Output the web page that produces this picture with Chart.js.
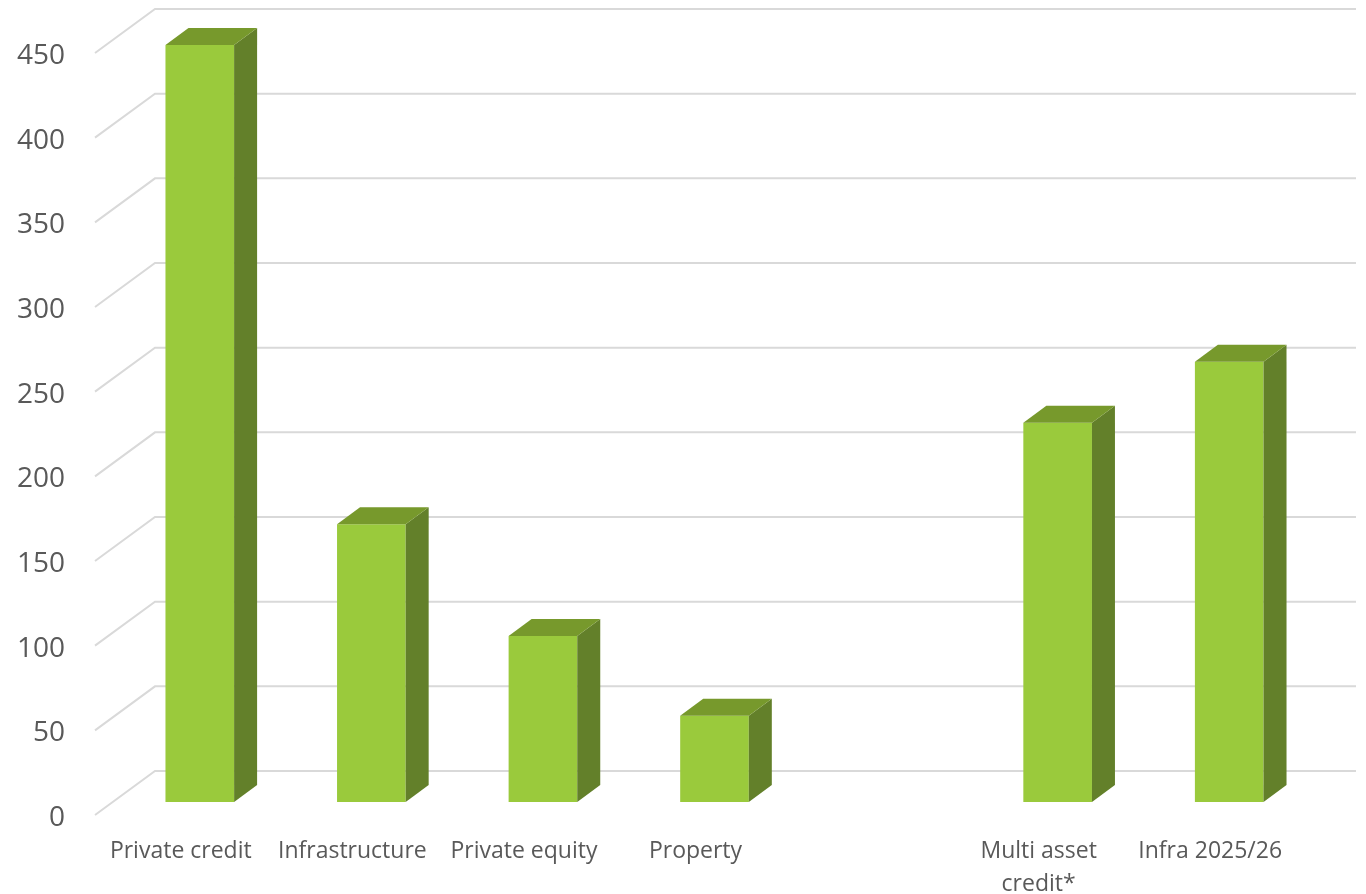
<!DOCTYPE html>
<html>
<head>
<meta charset="utf-8">
<script src="https://cdn.jsdelivr.net/npm/chart.js@4/dist/chart.umd.min.js"></script>
<style>
  html, body { margin: 0; padding: 0; background: #ffffff; }
  #wrap { position: relative; width: 1366px; height: 894px; }
</style>
</head>
<body>
<div id="wrap"><canvas id="c"></canvas></div>
<script>
// ---- data ----
const categories = ['Private credit', 'Infrastructure', 'Private equity', 'Property', '', ['Multi asset', 'credit*'], 'Infra 2025/26'];
const values = [447, 164, 98, 51, null, 224, 260];
const yTicks = [0, 50, 100, 150, 200, 250, 300, 350, 400, 450];

// ---- styling ----
const FRONT = '#9aca3c';
const TOP = '#77992c';
const SIDE = '#63802a';
const GRID = '#d9d9d9';
const TEXT = '#595959';
const WALL_DX = 60, WALL_DY = -44;   // front plane -> back wall
const BAR_DX = 19, BAR_DY = -13;     // front plane -> bar front face
const DEPTH_DX = 23, DEPTH_DY = -17; // bar depth

const wallPlugin = {
  id: 'wall',
  beforeDatasetsDraw(chart) {
    const ctx = chart.ctx;
    const ys = chart.scales.y;
    const area = chart.chartArea;
    ctx.save();
    ctx.strokeStyle = GRID;
    ctx.lineWidth = 2;
    yTicks.forEach(v => {
      const y = ys.getPixelForValue(v);
      ctx.beginPath();
      ctx.moveTo(area.left, y);
      ctx.lineTo(area.left + WALL_DX, y + WALL_DY);
      ctx.lineTo(area.right + WALL_DX, y + WALL_DY);
      ctx.stroke();
    });
    ctx.restore();
    // shift bar plane (restored after datasets draw)
    ctx.save();
    ctx.translate(BAR_DX, BAR_DY);
  },
  afterDatasetsDraw(chart) {
    const ctx = chart.ctx;
    const meta = chart.getDatasetMeta(0);
    meta.data.forEach((bar, i) => {
      if (values[i] == null) return;
      const p = bar.getProps(['x', 'y', 'base', 'width'], true);
      const l = p.x - p.width / 2, r = p.x + p.width / 2;
      // side
      ctx.fillStyle = SIDE;
      ctx.beginPath();
      ctx.moveTo(r, p.y);
      ctx.lineTo(r + DEPTH_DX, p.y + DEPTH_DY);
      ctx.lineTo(r + DEPTH_DX, p.base + DEPTH_DY);
      ctx.lineTo(r, p.base);
      ctx.closePath();
      ctx.fill();
      // top
      ctx.fillStyle = TOP;
      ctx.beginPath();
      ctx.moveTo(l, p.y);
      ctx.lineTo(l + DEPTH_DX, p.y + DEPTH_DY);
      ctx.lineTo(r + DEPTH_DX, p.y + DEPTH_DY);
      ctx.lineTo(r, p.y);
      ctx.closePath();
      ctx.fill();
    });
    ctx.restore();
  }
};

new Chart(document.getElementById('c'), {
  type: 'bar',
  data: {
    labels: categories,
    datasets: [{
      data: values,
      backgroundColor: FRONT,
      borderWidth: 0,
      barPercentage: 1,
      categoryPercentage: 0.4,
      clip: false
    }]
  },
  options: {
    responsive: true,
    maintainAspectRatio: false,
    animation: false,
    events: [],
    layout: { padding: { top: 53, right: 70, left: 0, bottom: 0 } },
    plugins: { legend: { display: false }, tooltip: { enabled: false } },
    scales: {
      x: {
        grid: { display: false, drawTicks: false },
        border: { display: false },
        ticks: {
          color: TEXT,
          font: { family: 'Open Sans', size: 23, lineHeight: 1.43 },
          padding: 20,
          maxRotation: 0,
          autoSkip: false
        },
        afterFit(s) { s.height = 79; }
      },
      y: {
        min: 0,
        max: 450,
        grid: { display: false, drawTicks: false },
        border: { display: false },
        ticks: {
          stepSize: 50,
          color: TEXT,
          font: { family: 'Open Sans', size: 28 },
          padding: 30,
          labelOffset: 3
        },
        afterBuildTicks(s) { s.ticks = yTicks.map(v => ({ value: v })); },
        afterFit(s) { s.width = 95; }
      }
    }
  },
  plugins: [wallPlugin]
});
</script>
</body>
</html>
